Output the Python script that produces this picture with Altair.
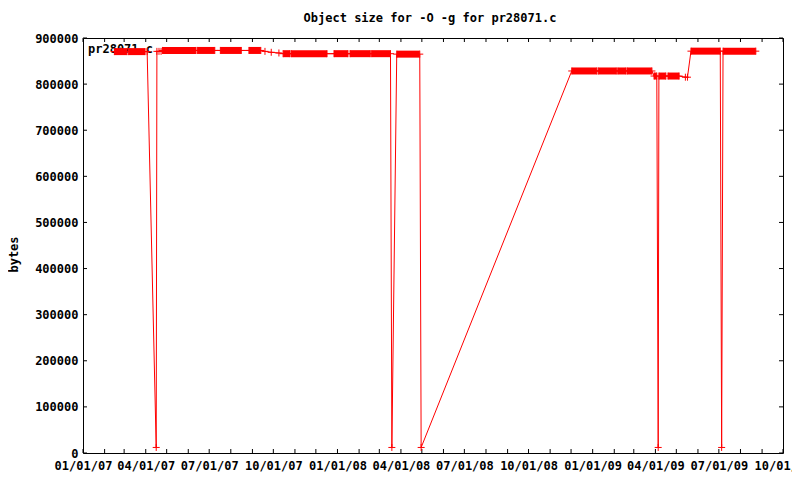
import altair as alt
import pandas as pd

# ---- data ----
run_start = ["2007-02-15", "2007-03-07", "2007-04-25", "2007-06-14", "2007-07-17",
             "2007-08-27", "2007-10-15", "2007-10-27", "2007-12-27", "2008-01-19",
             "2008-02-19", "2008-03-26", "2008-12-02", "2009-01-09", "2009-02-06",
             "2009-02-20", "2009-03-30", "2009-04-06", "2009-04-19", "2009-05-22",
             "2009-07-07"]
run_end = ["2007-03-05", "2007-03-31", "2007-06-12", "2007-07-09", "2007-08-16",
           "2007-09-13", "2007-10-25", "2007-12-17", "2008-01-16", "2008-02-17",
           "2008-03-17", "2008-04-28", "2009-01-07", "2009-02-04", "2009-02-18",
           "2009-03-27", "2009-04-03", "2009-04-16", "2009-05-05", "2009-07-03",
           "2009-08-23"]
run_value = [870500, 870500, 873000, 873000, 873000,
             873000, 866000, 866000, 866000, 866000,
             866000, 865000, 828500, 828500, 828500,
             828500, 817500, 817500, 817500, 871500,
             871500]

pt_date = ["2007-04-03", "2007-04-16", "2007-04-17", "2007-04-20", "2007-04-23",
           "2007-09-19", "2007-09-28", "2007-10-09", "2008-03-19", "2008-04-30",
           "2009-04-05", "2009-05-14", "2009-05-17", "2009-07-05"]
pt_value = [870500, 12000, 871000, 871000, 871000,
            871000, 869000, 867500, 12000, 12000,
            12000, 815000, 815000, 12000]

x_tick_labels = ["2007-01-01", "2007-04-01", "2007-07-01", "2007-10-01",
                 "2008-01-01", "2008-04-01", "2008-07-01", "2008-10-01",
                 "2009-01-01", "2009-04-01", "2009-07-01", "2009-10-01"]
y_ticks = [0, 100000, 200000, 300000, 400000, 500000, 600000, 700000, 800000, 900000]

title_text = "Object size for -O -g for pr28071.c"
series_name = "pr28071.c"
y_title = "bytes"

# ---- tables ----
runs = pd.DataFrame({"start": pd.to_datetime(run_start),
                     "end": pd.to_datetime(run_end),
                     "bytes": run_value})
pts = pd.concat([
    pd.DataFrame({"date": runs["start"], "bytes": runs["bytes"]}),
    pd.DataFrame({"date": runs["end"], "bytes": runs["bytes"]}),
    pd.DataFrame({"date": pd.to_datetime(pt_date), "bytes": pt_value}),
]).sort_values("date").reset_index(drop=True)

month_ticks = pd.DataFrame({"date": pd.date_range("2007-01-01", "2009-10-01", freq="MS")})
ytick_df = pd.DataFrame({"bytes": y_ticks})

FONT = "DejaVu Sans Mono"
W, H = 700, 415
RED = "#ff0000"

def dt(s):
    d = pd.Timestamp(s)
    return alt.DateTime(year=d.year, month=d.month, date=d.day)

xs = alt.Scale(domain=[dt("2007-01-01"), dt("2009-10-01")])
ys = alt.Scale(domain=[0, 900000], nice=False, zero=False)

xaxis = alt.Axis(values=[dt(s) for s in x_tick_labels], format="%m/%d/%y",
                 ticks=False, domain=False, grid=False, title=None,
                 labelFont=FONT, labelFontWeight="bold", labelFontSize=12,
                 labelColor="black", labelPadding=7, labelFlush=False,
                 labelOverlap=False)
yaxis = alt.Axis(values=y_ticks, format="d", ticks=False, domain=False, grid=False,
                 title=y_title, titleFont=FONT, titleFontWeight="bold", titleFontSize=12,
                 titleColor="black", titleAngle=270, titleAlign="center",
                 titleBaseline="middle", titleX=-70, titleY=216,
                 labelFont=FONT, labelFontWeight="bold", labelFontSize=12,
                 labelColor="black", labelPadding=5)

legend_text = alt.Chart(pd.DataFrame({"t": [series_name]})).mark_text(
    font=FONT, fontWeight="bold", fontSize=12, align="left", baseline="middle",
    color="black").encode(text="t:N", x=alt.value(5), y=alt.value(11))

title_layer = alt.Chart(pd.DataFrame({"t": [title_text]})).mark_text(
    font=FONT, fontWeight="bold", fontSize=12, align="center", baseline="middle",
    color="black").encode(text="t:N", x=alt.value(W / 2 - 3), y=alt.value(-20))

line = alt.Chart(pts).mark_line(color=RED, strokeWidth=1).encode(
    x=alt.X("date:T", scale=xs, axis=xaxis),
    y=alt.Y("bytes:Q", scale=ys, axis=yaxis))

bars = alt.Chart(runs).mark_rule(color=RED, strokeWidth=7, strokeCap="butt").encode(
    x=alt.X("start:T", scale=xs, axis=xaxis), x2="end:T",
    y=alt.Y("bytes:Q", scale=ys, axis=yaxis))

plus = alt.Chart(pts).mark_point(shape="M-1,0L1,0M0,-1L0,1", size=49, filled=False,
                                 color=RED, strokeWidth=1, opacity=1).encode(
    x=alt.X("date:T", scale=xs, axis=xaxis),
    y=alt.Y("bytes:Q", scale=ys, axis=yaxis))

tick_b = alt.Chart(month_ticks).mark_rule(color="black", strokeWidth=1).encode(
    x=alt.X("date:T", scale=xs, axis=xaxis), y=alt.value(H), y2=alt.value(H - 4))
tick_t = alt.Chart(month_ticks).mark_rule(color="black", strokeWidth=1).encode(
    x=alt.X("date:T", scale=xs, axis=xaxis), y=alt.value(0), y2=alt.value(4))
tick_l = alt.Chart(ytick_df).mark_rule(color="black", strokeWidth=1).encode(
    y=alt.Y("bytes:Q", scale=ys, axis=yaxis), x=alt.value(0), x2=alt.value(4))
tick_r = alt.Chart(ytick_df).mark_rule(color="black", strokeWidth=1).encode(
    y=alt.Y("bytes:Q", scale=ys, axis=yaxis), x=alt.value(W), x2=alt.value(W - 4))

chart = alt.layer(legend_text, tick_b, tick_t, tick_l, tick_r, line, bars, plus,
                  title_layer).properties(
    width=W, height=H,
    autosize=alt.AutoSizeParams(type="none"),
    padding={"left": 75, "top": 30, "right": 9, "bottom": 24},
    background="white",
).configure_view(stroke="black", strokeWidth=1)

chart.save("out.html", embed_options={"renderer": "svg", "actions": False})
